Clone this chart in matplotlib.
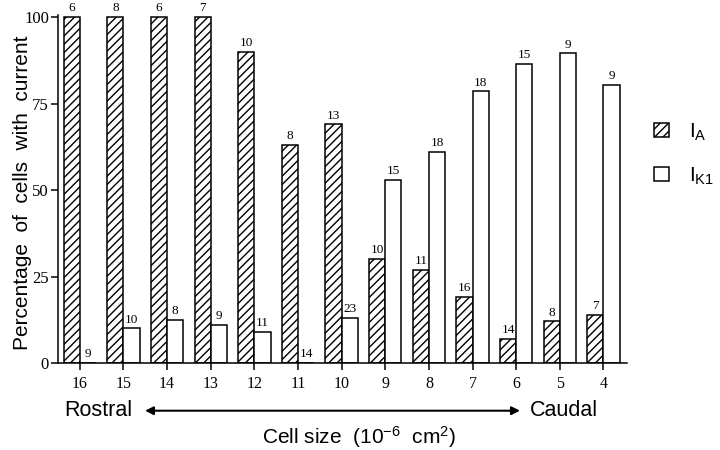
import matplotlib
matplotlib.use('Agg')
import matplotlib.pyplot as plt
import numpy as np

# Cell size classes (10^-6 cm^2), rostral -> caudal
sizes = ['16', '15', '14', '13', '12', '11', '10', '9', '8', '7', '6', '5', '4']
ia_pct = [100, 100, 100, 100, 90, 63, 69, 30, 27, 19, 7, 12, 14]
ik1_pct = [0, 10, 12.5, 11, 9, 0, 13, 53, 61, 78.5, 86.5, 89.5, 80.5]
ia_n = [6, 8, 6, 7, 10, 8, 13, 10, 11, 16, 14, 8, 7]
ik1_n = [9, 10, 8, 9, 11, 14, 23, 15, 18, 18, 15, 9, 9]
yticks = [0, 25, 50, 75, 100]

plt.rcParams['font.family'] = ['Liberation Sans', 'DejaVu Sans']
plt.rcParams['mathtext.fontset'] = 'custom'
plt.rcParams['mathtext.rm'] = 'Liberation Sans'
plt.rcParams['mathtext.it'] = 'Liberation Sans'
plt.rcParams['hatch.linewidth'] = 1.0

SERIF = ['Liberation Serif', 'DejaVu Serif']

fig = plt.figure(figsize=(7.2, 4.5), dpi=100)
ax = fig.add_axes([58 / 720, 1 - 363 / 450, (627 - 58) / 720, (363 - 15) / 450])

x = np.arange(len(sizes))
w = 0.37
b1 = ax.bar(x - w / 2, ia_pct, w, facecolor='white', edgecolor='black',
            hatch='////', linewidth=1.1, label=r'$\mathregular{I_A}$')
b2 = ax.bar(x + w / 2, ik1_pct, w, facecolor='white', edgecolor='black',
            linewidth=1.1, label=r'$\mathregular{I_{K1}}$')

for bars, counts in ((b1, ia_n), (b2, ik1_n)):
    for rect, n in zip(bars, counts):
        ax.annotate(str(n), (rect.get_x() + rect.get_width() / 2, rect.get_height()),
                    xytext=(0, 2.0), textcoords='offset points', ha='center', va='bottom',
                    family=SERIF, fontsize=9.5)

ax.set_xlim(-0.5, 12.54)
ax.set_ylim(0, 100.6)
ax.set_xticks(x)
ax.set_xticklabels(sizes, family=SERIF, fontsize=11.5)
ax.set_yticks(yticks)
ax.set_yticklabels([str(v) for v in yticks], family=SERIF, fontsize=12)
ax.tick_params(axis='both', direction='out', length=5, width=1.1)
ax.tick_params(axis='x', pad=4)
ax.tick_params(axis='y', pad=1.5)
for s in ('top', 'right'):
    ax.spines[s].set_visible(False)
for s in ('left', 'bottom'):
    ax.spines[s].set_linewidth(1.1)

ax.set_ylabel('Percentage  of  cells  with  current', fontsize=15)
ax.yaxis.set_label_coords(-0.045, 0.49)

ax.legend(handles=[b1, b2], loc='center left', bbox_to_anchor=(654 / 720, 1 - 154 / 450),
          bbox_transform=fig.transFigure, frameon=False, fontsize=15,
          handlelength=0.7, handleheight=0.7, handletextpad=1.0, labelspacing=1.1,
          borderpad=0, borderaxespad=0)

yb = 1 - 410.7 / 450
fig.text(64 / 720, yb, 'Rostral', ha='left', va='center', fontsize=15.5)
fig.text(598 / 720, yb, 'Caudal', ha='right', va='center', fontsize=15.5)
ax.annotate('', xy=(520 / 720, yb), xytext=(145 / 720, yb), xycoords='figure fraction',
            textcoords='figure fraction',
            arrowprops=dict(arrowstyle='<|-|>', lw=1.5, color='black', mutation_scale=12,
                            shrinkA=0, shrinkB=0))
fig.text(359 / 720, 1 - 436.7 / 450, r'Cell size  (10$^{\mathregular{-6}}$  cm$^{\mathregular{2}}$)',
         ha='center', va='center', fontsize=15)

fig.savefig('out.png', dpi=100)
